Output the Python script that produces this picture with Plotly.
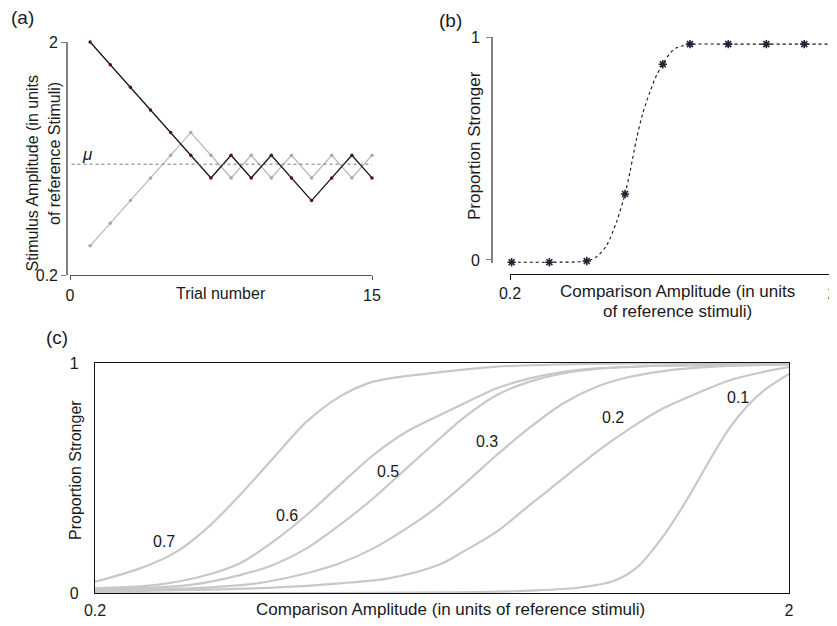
import plotly.graph_objects as go

W, H = 837, 626
FONT = "Liberation Sans, Arial, sans-serif"
PAGE_OFFSET = 8  # the page body margin shifts the figure by this many pixels

# ---------------- Panel (a): staircase ----------------
trials = list(range(1, 16))
stair_down = [2.0, 1.825, 1.65, 1.475, 1.3, 1.125, 0.95, 1.125, 0.95, 1.125, 0.95, 0.775, 0.95, 1.125, 0.95]
stair_up = [0.425, 0.6, 0.775, 0.95, 1.125, 1.3, 1.125, 0.95, 1.125, 0.95, 1.125, 0.95, 1.125, 0.95, 1.125]
mu_value = 1.056
a_xticks = [0, 15]
a_yticks = [0.2, 2]

# ---------------- Panel (b): psychometric fit ----------------
b_pts_x = [0.209, 0.42, 0.629, 0.843, 1.054, 1.206, 1.42, 1.633, 1.845]
b_pts_y = [-0.01, -0.01, -0.005, 0.296, 0.878, 0.968, 0.968, 0.968, 0.968]
b_fit_x = [0.209, 0.42, 0.629, 0.685, 0.741, 0.796, 0.843, 0.871, 0.908, 0.945, 0.983,
           1.02, 1.054, 1.094, 1.132, 1.169, 1.206, 1.42, 1.633, 1.845, 2.0]
b_fit_y = [-0.01, -0.01, -0.005, 0.015, 0.067, 0.172, 0.296, 0.396, 0.546, 0.665, 0.755,
           0.83, 0.878, 0.927, 0.952, 0.961, 0.967, 0.968, 0.968, 0.968, 0.968]
b_xticks = [0.2, 2]
b_yticks = [0, 1]

# ---------------- Panel (c): family of curves ----------------
c_labels = ["0.7", "0.6", "0.5", "0.3", "0.2", "0.1"]
c_x = {
    "0.7": [0.2, 0.317, 0.412, 0.49, 0.576, 0.662, 0.749, 0.835, 0.922, 1.095, 1.242, 1.415, 1.6, 2.0],
    "0.6": [0.2, 0.36, 0.49, 0.576, 0.662, 0.749, 0.835, 0.922, 1.008, 1.095, 1.155, 1.242, 1.328,
            1.415, 1.501, 1.674, 2.0],
    "0.5": [0.2, 0.446, 0.576, 0.662, 0.749, 0.835, 0.922, 1.0, 1.095, 1.155, 1.242, 1.328, 1.415,
            1.501, 1.674, 2.0],
    "0.3": [0.2, 0.446, 0.619, 0.749, 0.835, 0.922, 1.008, 1.08, 1.155, 1.242, 1.328, 1.415, 1.501,
            1.588, 1.674, 1.804, 2.0],
    "0.2": [0.2, 0.446, 0.662, 0.835, 0.965, 1.095, 1.155, 1.242, 1.328, 1.415, 1.501, 1.588, 1.674,
            1.761, 1.847, 1.93, 2.0],
    "0.1": [0.2, 0.8, 1.2, 1.328, 1.458, 1.545, 1.605, 1.673, 1.726, 1.761, 1.804, 1.847, 1.89,
            1.933, 2.0],
}
c_y = {
    "0.7": [0.049, 0.107, 0.18, 0.281, 0.426, 0.586, 0.745, 0.854, 0.919, 0.96, 0.984, 0.994, 0.998, 1.0],
    "0.6": [0.02, 0.035, 0.078, 0.129, 0.223, 0.339, 0.47, 0.6, 0.701, 0.774, 0.822, 0.89, 0.933,
            0.962, 0.977, 0.988, 0.995],
    "0.5": [0.013, 0.035, 0.078, 0.122, 0.194, 0.296, 0.412, 0.53, 0.673, 0.76, 0.861, 0.919, 0.955,
            0.974, 0.988, 0.995],
    "0.3": [0.013, 0.02, 0.042, 0.086, 0.129, 0.194, 0.281, 0.365, 0.47, 0.6, 0.72, 0.825, 0.897,
            0.94, 0.965, 0.984, 0.994],
    "0.2": [0.005, 0.013, 0.023, 0.042, 0.065, 0.125, 0.18, 0.267, 0.383, 0.499, 0.614, 0.716, 0.803,
            0.868, 0.925, 0.96, 0.982],
    "0.1": [0.0, 0.0, 0.004, 0.01, 0.024, 0.052, 0.11, 0.245, 0.38, 0.48, 0.605, 0.72, 0.81,
            0.878, 0.952],
}
c_label_pos = {
    "0.7": (0.379, 0.226), "0.6": (0.698, 0.335), "0.5": (0.96, 0.53),
    "0.3": (1.217, 0.657), "0.2": (1.543, 0.761), "0.1": (1.868, 0.852),
}
c_xticks = [0.2, 2]
c_yticks = [0, 1]


def px(x):
    return (x - PAGE_OFFSET) / W


def py(y):
    return 1 - (y - PAGE_OFFSET) / H


fig = go.Figure()

# (a) traces
fig.add_trace(go.Scatter(x=trials, y=stair_up, mode="lines+markers", xaxis="x", yaxis="y",
                         line=dict(color="#b9b9b9", width=1.3),
                         marker=dict(color="#a8a8a8", size=3.5), cliponaxis=False, showlegend=False))
fig.add_trace(go.Scatter(x=trials, y=stair_down, mode="lines+markers", xaxis="x", yaxis="y",
                         line=dict(color="#111111", width=1.3),
                         marker=dict(color="#5c0f12", size=3.5), cliponaxis=False, showlegend=False))

# (b) traces
fig.add_trace(go.Scatter(x=b_fit_x, y=b_fit_y, mode="lines", xaxis="x2", yaxis="y2",
                         line=dict(color="#111111", width=1.1, dash="dot", shape="spline", smoothing=0.8),
                         showlegend=False))
fig.add_trace(go.Scatter(x=b_pts_x, y=b_pts_y, mode="markers", xaxis="x2", yaxis="y2",
                         marker=dict(symbol="asterisk-open", size=7, color="#1f2535",
                                     line=dict(color="#1f2535", width=1.6)),
                         cliponaxis=False, showlegend=False))

# (c) traces
for lab in c_labels:
    fig.add_trace(go.Scatter(x=c_x[lab], y=c_y[lab], mode="lines", xaxis="x3", yaxis="y3",
                             line=dict(color="#c8c8c8", width=2.2, shape="spline", smoothing=0.9),
                             showlegend=False))

tickfont = dict(family=FONT, size=16, color="#1a1a1a")

layout = dict(
    width=W, height=H, margin=dict(l=0, r=0, t=0, b=0, pad=0, autoexpand=False),
    autosize=False,
    paper_bgcolor="white", plot_bgcolor="white",
    font=dict(family=FONT, color="#1a1a1a"),
    # (a)
    xaxis=dict(domain=[px(70), px(372)], range=[0, 15], showgrid=False, zeroline=False,
               showline=True, linecolor="#555555", linewidth=1.3, automargin=False,
               tickvals=a_xticks, ticks="outside", ticklen=4, tickcolor="#555555",
               tickfont=tickfont, ticklabelstandoff=2, anchor="y"),
    yaxis=dict(domain=[py(275), py(42)], range=[0.2, 2], showgrid=False, zeroline=False,
               showline=True, linecolor="#808080", linewidth=1.6, automargin=False,
               tickvals=a_yticks, ticktext=["0.2", "2"], ticks="outside", ticklen=5, tickcolor="#808080",
               tickfont=tickfont, anchor="free", position=px(67)),
    # (b)
    xaxis2=dict(domain=[px(510), px(832)], range=[0.2, 2], showgrid=False, zeroline=False,
                showline=True, linecolor="#111111", linewidth=1.2, automargin=False,
                tickvals=b_xticks, ticktext=["0.2", "2"], ticks="outside", ticklen=5, tickcolor="#111111",
                tickfont=tickfont, ticklabelstandoff=0, anchor="free", position=py(274)),
    yaxis2=dict(domain=[py(263.3), py(37)], range=[-0.015, 1], showgrid=False, zeroline=False,
                showline=True, linecolor="#808080", linewidth=1.6, automargin=False,
                tickvals=b_yticks, ticks="outside", ticklen=5, tickcolor="#808080",
                tickfont=tickfont, ticklabelstandoff=3, anchor="free", position=px(492)),
    # (c)
    xaxis3=dict(domain=[px(95), px(789)], range=[0.2, 2], showgrid=False, zeroline=False,
                showline=True, mirror=True, linecolor="#111111", linewidth=1.2, layer="below traces",
                automargin=False,
                tickvals=c_xticks, ticktext=["0.2", "2"], ticks="", tickfont=tickfont,
                ticklabelstandoff=3, anchor="y3"),
    yaxis3=dict(domain=[py(593), py(363)], range=[0, 1], showgrid=False, zeroline=False,
                showline=True, mirror=True, linecolor="#111111", linewidth=1.2, layer="below traces",
                automargin=False,
                tickvals=c_yticks, ticks="", tickfont=tickfont, ticklabelstandoff=12, anchor="x3"),
)
fig.update_layout(**layout)

fig.add_shape(type="line", xref="x domain", yref="y", x0=0.005, x1=1, y0=mu_value, y1=mu_value,
              line=dict(color="#777777", width=1, dash="dot"))


def ann(text, x, y, size=17, angle=0, xref="paper", yref="paper", italic=False):
    if italic:
        text = "<i>" + text + "</i>"
    fig.add_annotation(text=text, x=x, y=y, xref=xref, yref=yref, showarrow=False,
                       textangle=angle, xanchor="center", yanchor="middle",
                       font=dict(family=FONT, size=size, color="#1a1a1a"))


# panel labels
ann("(a)", px(22), py(18), size=19)
ann("(b)", px(450), py(20), size=19)
ann("(c)", px(57), py(337), size=19)

# (a) titles
ann("Stimulus Amplitude (in units", px(32), py(173.5), size=16, angle=-90)
ann("of reference Stimuli)", px(54), py(154), size=16, angle=-90)
ann("Trial number", px(221), py(293), size=16)
ann("μ", px(87), py(154), size=17, italic=True)

# (b) titles
ann("Proportion Stronger", px(474), py(145), size=17, angle=-90)
ann("Comparison Amplitude (in units", px(677.5), py(291.7), size=17)
ann("of reference stimuli)", px(677.5), py(311.7), size=17)

# (c) titles
ann("Proportion Stronger", px(75), py(470), size=16, angle=-90)
ann("Comparison Amplitude (in units of reference stimuli)", px(451), py(609.5), size=17)

for lab in c_labels:
    lx, ly = c_label_pos[lab]
    ann(lab, lx, ly, size=16, xref="x3", yref="y3")

fig.write_html("out.html")
